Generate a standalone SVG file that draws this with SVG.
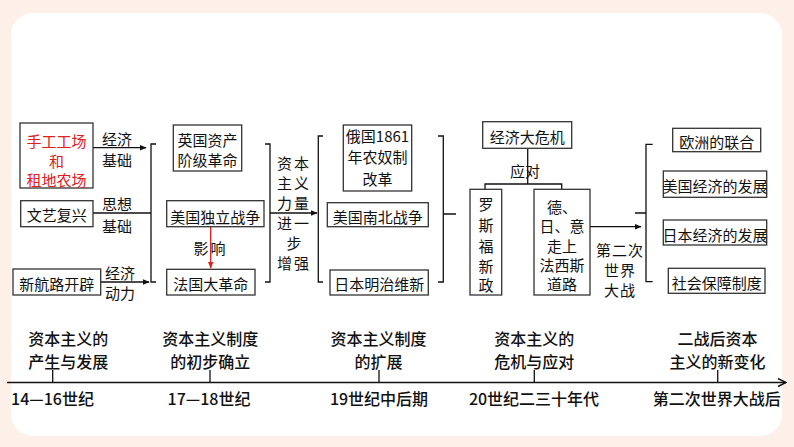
<svg xmlns="http://www.w3.org/2000/svg" width="794" height="447" viewBox="0 0 794 447">
<defs>
<style>
text{font-family:"Noto Sans CJK SC","Noto Sans",sans-serif;fill:#111;text-anchor:middle;dominant-baseline:central}
.t{font-size:15px}
.red{fill:#e0201c}
.lab{font-size:15px}
.tl{font-size:16px;font-weight:500}
.box{fill:#fff;stroke:#333;stroke-width:1.3}
.ln{fill:none;stroke:#111;stroke-width:1.3}
</style>
<marker id="ah" viewBox="0 0 10 10" refX="9" refY="5" markerWidth="7" markerHeight="7" markerUnits="userSpaceOnUse" orient="auto"><path d="M0,1 L10,5 L0,9 z" fill="#111"/></marker>
<marker id="ahr" viewBox="0 0 10 10" refX="9" refY="5" markerWidth="7" markerHeight="7" markerUnits="userSpaceOnUse" orient="auto"><path d="M0,1 L10,5 L0,9 z" fill="#e0201c"/></marker>
<marker id="ao" viewBox="0 0 10 10" refX="9" refY="5" markerWidth="10" markerHeight="10" markerUnits="userSpaceOnUse" orient="auto"><path d="M1,1 L9,5 L1,9" fill="none" stroke="#111" stroke-width="1.4"/></marker>
</defs>
<rect x="0" y="0" width="794" height="447" fill="#fcf0e9"/>
<rect x="11" y="13" width="771" height="423" rx="22" fill="#fff"/>

<g id="connectors">
<path class="ln" d="M93,147.7 H146" marker-end="url(#ah)"/>
<path class="ln" d="M93,213 H151"/>
<path class="ln" d="M101,282 H149" marker-end="url(#ah)"/>
<path class="ln" d="M156,144 H151 V282 H156"/>
<path class="ln" d="M265,144 H270 V282 H265"/>
<path class="ln" d="M270,213 H317" marker-end="url(#ah)"/>
<path d="M210.7,227 V268" fill="none" stroke="#e0201c" stroke-width="1.3" marker-end="url(#ahr)"/>
<path class="ln" d="M323,136 H318.3 V282 H323"/>
<path class="ln" d="M438,136 H443.3 V282 H438 M443.3,214 H456"/>
<path class="ln" d="M527.7,148.3 V184 M485,189.3 V184 H561.7 V189.3"/>
<path class="ln" d="M590,226.7 H641" marker-end="url(#ah)"/>
<path class="ln" d="M652.7,144.3 H646 V281.7 H652.7 M635,213 H646"/>
<path class="ln" stroke-width="1.5" d="M7,382.5 H786" marker-end="url(#ao)"/>
<path class="ln" d="M52.7,370 V382.5 M210,370 V382.5 M379,370 V382.5 M534.3,370 V382.5 M717.7,370 V382.5"/>
</g>

<g id="n-shougong"><rect class="box" x="20" y="123" width="73" height="65"/>
<text class="t red" x="56.5" y="140">手工工场</text><text class="t red" x="56.5" y="160">和</text><text class="t red" x="56.5" y="179">租地农场</text></g>
<g id="n-wenyi"><rect class="box" x="20.7" y="200.7" width="72.3" height="26"/><text class="t" x="56.8" y="214">文艺复兴</text></g>
<g id="n-xinhanglu"><rect class="box" x="13" y="269" width="87.7" height="26"/><text class="t" x="56.8" y="283">新航路开辟</text></g>
<g id="l-left">
<text class="lab" x="117" y="138">经济</text><text class="lab" x="117" y="159">基础</text>
<text class="lab" x="117" y="203.5">思想</text><text class="lab" x="117" y="225">基础</text>
<text class="lab" x="120" y="272">经济</text><text class="lab" x="120" y="292">动力</text>
</g>

<g id="n-yingguo"><rect class="box" x="173.3" y="125" width="68.4" height="46"/>
<text class="t" x="207.5" y="139.5">英国资产</text><text class="t" x="207.5" y="159.5">阶级革命</text></g>
<g id="n-meiguoduli"><rect class="box" x="166.7" y="200.7" width="97.3" height="26"/><text class="t" x="215.3" y="216">美国独立战争</text></g>
<g id="n-faguo"><rect class="box" x="166.7" y="269.3" width="88.3" height="25.7"/><text class="t" x="210.8" y="283.3">法国大革命</text></g>
<text class="lab" x="210.5" y="247" letter-spacing="2">影响</text>
<g id="l-zengqiang">
<text class="lab" x="294" y="162" letter-spacing="2">资本</text>
<text class="lab" x="294" y="182" letter-spacing="2">主义</text>
<text class="lab" x="294" y="202" letter-spacing="2">力量</text>
<text class="lab" x="294" y="222" letter-spacing="2">进一</text>
<text class="lab" x="294" y="242">步</text>
<text class="lab" x="294" y="262" letter-spacing="2">增强</text>
</g>

<g id="n-eguo"><rect class="box" x="343.3" y="125" width="68.4" height="66"/>
<text class="t" x="377.5" y="135">俄国1861</text><text class="t" x="377.5" y="156">年农奴制</text><text class="t" x="377.5" y="178">改革</text></g>
<g id="n-nanbei"><rect class="box" x="327.3" y="202.7" width="101" height="24"/><text class="t" x="377.8" y="216">美国南北战争</text></g>
<g id="n-mingzhi"><rect class="box" x="330" y="270" width="98.3" height="25"/><text class="t" x="379.2" y="283.3">日本明治维新</text></g>

<g id="n-weiji"><rect class="box" x="482.7" y="121.7" width="89" height="26.6"/><text class="t" x="527.2" y="136.7">经济大危机</text></g>
<text class="lab" x="525" y="170">应对</text>
<g id="n-luosifu"><rect class="box" x="470" y="189.3" width="31.7" height="105.7"/>
<text class="t" x="486" y="203">罗</text><text class="t" x="486" y="224">斯</text><text class="t" x="486" y="245">福</text><text class="t" x="486" y="265">新</text><text class="t" x="486" y="284">政</text></g>
<g id="n-faxisi"><rect class="box" x="534" y="189.3" width="56" height="105.7"/>
<text class="t" x="562" y="206">德、</text><text class="t" x="562" y="225.5">日、意</text><text class="t" x="562" y="245">走上</text><text class="t" x="562" y="264">法西斯</text><text class="t" x="562" y="283.5">道路</text></g>
<g id="l-erzhan">
<text class="lab" x="620" y="249.5" letter-spacing="1">第二次</text><text class="lab" x="620" y="269.3" letter-spacing="1">世界</text><text class="lab" x="620" y="289" letter-spacing="1">大战</text>
</g>

<g id="n-ouzhou"><rect class="box" x="672.7" y="128.3" width="88" height="23.4"/><text class="t" x="716.7" y="141">欧洲的联合</text></g>
<g id="n-meiguojingji"><rect class="box" x="663.3" y="171" width="103.4" height="26.3"/><text class="t" x="715" y="185.5">美国经济的发展</text></g>
<g id="n-ribenjingji"><rect class="box" x="663.3" y="220" width="103.4" height="25"/><text class="t" x="715" y="234">日本经济的发展</text></g>
<g id="n-shehui"><rect class="box" x="668.3" y="268.3" width="96.7" height="25"/><text class="t" x="716.7" y="282.5">社会保障制度</text></g>

<g id="timeline">
<text class="tl" x="68.3" y="337.5">资本主义的</text><text class="tl" x="68.3" y="360.5">产生与发展</text>
<text class="tl" x="210.3" y="337.5">资本主义制度</text><text class="tl" x="210.3" y="360.5">的初步确立</text>
<text class="tl" x="378.5" y="337.5">资本主义制度</text><text class="tl" x="378.5" y="360.5">的扩展</text>
<text class="tl" x="534.3" y="337.5">资本主义的</text><text class="tl" x="534.3" y="360.5">危机与应对</text>
<text class="tl" x="717.5" y="337.5">二战后资本</text><text class="tl" x="717.5" y="360.5">主义的新变化</text>
<text class="tl" x="52.5" y="398.3">14—16世纪</text>
<text class="tl" x="209" y="398.3">17—18世纪</text>
<text class="tl" x="379" y="398.3">19世纪中后期</text>
<text class="tl" x="534" y="398.3">20世纪二三十年代</text>
<text class="tl" x="716.7" y="398.3">第二次世界大战后</text>
</g>
</svg>
